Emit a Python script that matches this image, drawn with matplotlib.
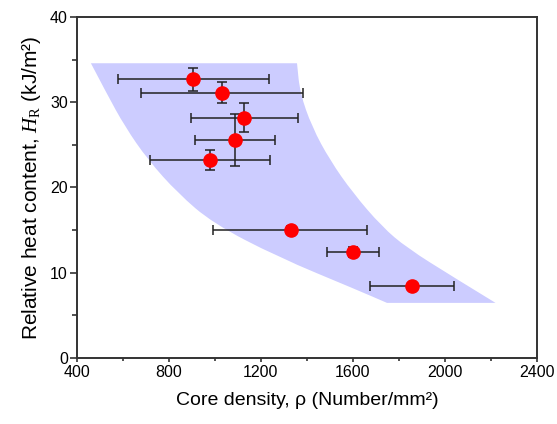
import matplotlib
matplotlib.use("Agg")
import matplotlib.pyplot as plt
from matplotlib.path import Path
from matplotlib.patches import PathPatch
from matplotlib.ticker import MultipleLocator

plt.rcParams['font.family'] = ['Liberation Sans', 'DejaVu Sans']
plt.rcParams['mathtext.fontset'] = 'custom'
plt.rcParams['mathtext.rm'] = 'Liberation Serif'
plt.rcParams['mathtext.it'] = 'Liberation Serif:italic'

# --- data ---
density = [906, 1032, 1126, 1087, 978, 1330, 1600, 1857]
heat = [32.7, 31.1, 28.2, 25.6, 23.2, 15.0, 12.4, 8.4]
density_lo = [578, 678, 896, 913, 719, 991, 1487, 1674]
density_hi = [1235, 1383, 1361, 1261, 1239, 1663, 1713, 2039]
heat_err = [1.33, 1.25, 1.75, 3.05, 1.2, 0.5, 0.6, 0.3]

# shaded band outline: left (lower) edge top->bottom, then right edge bottom->top
band_left_x = [461, 529, 609, 709, 839, 991, 1270, 1617, 1748]
band_left_y = [34.57, 31.05, 27.13, 23.23, 19.32, 15.8, 11.88, 7.98, 6.45]
band_right_x = [2220, 2035, 1835, 1726, 1600, 1500, 1422, 1370, 1357]
band_right_y = [6.45, 9.5, 12.9, 15.4, 19.35, 23.2, 27.1, 31.1, 34.57]


def smooth_edge(xs, ys):
    # quadratic bezier through midpoints, using the read points as controls
    verts = [(xs[0], ys[0])]
    codes = [Path.LINETO]
    for i in range(1, len(xs) - 1):
        verts.append((xs[i], ys[i]))
        verts.append(((xs[i] + xs[i + 1]) / 2, (ys[i] + ys[i + 1]) / 2))
        codes += [Path.CURVE3, Path.CURVE3]
    verts.append((xs[-1], ys[-1]))
    codes.append(Path.LINETO)
    return verts, codes


fig = plt.figure(figsize=(5.57, 4.24), dpi=100)
ax = fig.add_axes([0.138, 0.156, 0.826, 0.804])

lv, lc = smooth_edge(band_left_x, band_left_y)
rv, rc = smooth_edge(band_right_x, band_right_y)
lc[0] = Path.MOVETO
verts = lv + rv + [lv[0]]
codes = lc + rc + [Path.CLOSEPOLY]
ax.add_patch(PathPatch(Path(verts, codes), facecolor='#ccccff', lw=0, zorder=1))

xerr = [[d - lo for d, lo in zip(density, density_lo)],
        [hi - d for d, hi in zip(density, density_hi)]]
ax.errorbar(density, heat, xerr=xerr, yerr=heat_err, fmt='none',
            ecolor='#222222', elinewidth=1.1, capsize=3.5, capthick=1.1, zorder=2)
ax.plot(density, heat, 'o', color='red', markersize=9.5, zorder=3)

ax.set_xlim(400, 2400)
ax.set_ylim(0, 40)
ax.xaxis.set_major_locator(MultipleLocator(400))
ax.xaxis.set_minor_locator(MultipleLocator(200))
ax.yaxis.set_major_locator(MultipleLocator(10))
ax.yaxis.set_minor_locator(MultipleLocator(5))
ax.tick_params(which='both', direction='out', labelsize=11.5, width=1.2, color='#333333')
ax.tick_params(axis='x', which='major', length=3, pad=2.5)
ax.tick_params(axis='x', which='minor', length=2.2)
ax.tick_params(axis='y', which='major', length=5, pad=1.5)
ax.tick_params(axis='y', which='minor', length=3.3)
for s in ax.spines.values():
    s.set_linewidth(1.4)
    s.set_color('#333333')

ax.set_xlabel('Core density, ρ (Number/mm²)', fontsize=14, labelpad=8)
ax.set_ylabel(r'Relative heat content, $\mathit{H}_{\mathrm{R}}$ (kJ/m²)', fontsize=15, labelpad=5)

fig.savefig('out.png', dpi=100)
